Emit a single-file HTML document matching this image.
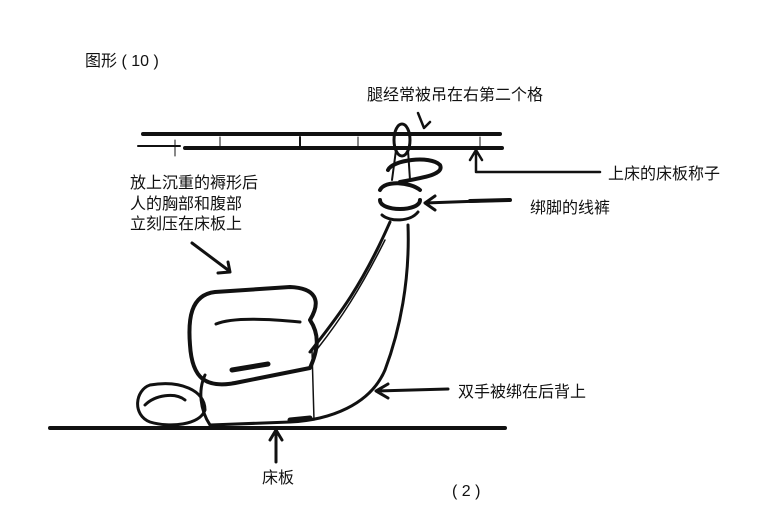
<!DOCTYPE html>
<html><head><meta charset="utf-8"><style>
html,body{margin:0;padding:0;background:#fff;}
svg{display:block;}
text{font-family:"Liberation Sans","Noto Sans CJK SC",sans-serif;font-size:16px;fill:#111;}
</style></head><body>
<svg width="775" height="525" viewBox="0 0 775 525" xmlns="http://www.w3.org/2000/svg">
<g stroke="#111" fill="none" stroke-linecap="round" stroke-linejoin="round">
<line x1="143" y1="134" x2="500" y2="134" stroke-width="4"/>
<line x1="138" y1="146" x2="180" y2="146" stroke-width="2"/>
<line x1="185" y1="148" x2="502" y2="148" stroke-width="4"/>
<line x1="175" y1="140" x2="175" y2="156" stroke-width="1"/>
<line x1="220" y1="137" x2="220" y2="147" stroke-width="1"/>
<line x1="300" y1="137" x2="300" y2="147" stroke-width="2"/>
<line x1="358" y1="137" x2="358" y2="147" stroke-width="1"/>
<line x1="480" y1="137" x2="480" y2="147" stroke-width="1"/>
<line x1="50" y1="428" x2="505" y2="428" stroke-width="4"/>
<path d="M418 113 L424 128 L430 122" stroke-width="2.5"/>
<path d="M600 172 L476 172 L476 152 M470 160 L476 150 L482 160" stroke-width="2.5"/>
<path d="M470 201 L510 200" stroke-width="4"/>
<path d="M510 200 L425 203 M435 196 L425 203 L435 210" stroke-width="3"/>
<path d="M192 243 L228 270 M218 273 L230 272 L228 262" stroke-width="3"/>
<path d="M448 389 L378 391 M388 384 L376 391 L388 398" stroke-width="3"/>
<path d="M276 462 L276 432 M270 440 L276 430 L282 440" stroke-width="3"/>
<path d="M310 320 C322 300 315 288 290 287 L215 292 C190 295 188 320 190 345 C192 378 205 390 240 382 L310 368 C318 350 320 335 310 320 Z" stroke-width="4"/>
<path d="M216 324 C230 318 260 318 300 322" stroke-width="3"/>
<path d="M232 370 L268 364" stroke-width="5"/>
<path d="M205 375 C198 390 200 410 210 425 L290 422 C330 420 370 405 385 370 C400 330 410 280 408 225" stroke-width="3"/>
<path d="M310 352 C335 320 360 290 390 222" stroke-width="3"/>
<path d="M318 348 C340 320 360 290 385 240" stroke-width="1.5"/>
<line x1="312" y1="350" x2="314" y2="420" stroke-width="1.5"/>
<path d="M290 420 L310 418" stroke-width="5"/>
<path d="M150 385 C135 390 132 415 150 422 C170 428 200 425 205 410 C205 390 180 380 150 385 Z" stroke-width="3"/>
<path d="M145 405 C155 395 175 392 185 400" stroke-width="3"/>
<ellipse cx="402" cy="140" rx="8" ry="16" stroke-width="3"/>
<path d="M388 170 C392 160 430 155 440 165 C445 175 420 178 400 182" stroke-width="4"/>
<path d="M380 190 C385 180 410 182 420 190" stroke-width="4"/>
<path d="M380 200 C380 212 420 212 420 200" stroke-width="4"/>
<path d="M382 215 C390 222 410 222 418 212" stroke-width="3"/>
<line x1="396" y1="150" x2="392" y2="180" stroke-width="2"/>
<line x1="408" y1="150" x2="410" y2="180" stroke-width="2"/>
</g>
<text x="85" y="66">图形 ( 10 )</text>
<text x="367" y="100">腿经常被吊在右第二个格</text>
<text x="608" y="179">上床的床板称子</text>
<text x="530" y="213">绑脚的线裤</text>
<text x="130" y="188">放上沉重的褥形后</text>
<text x="130" y="209">人的胸部和腹部</text>
<text x="130" y="229">立刻压在床板上</text>
<text x="458" y="397">双手被绑在后背上</text>
<text x="262" y="483">床板</text>
<text x="452" y="496">( 2 )</text>
</svg>
</body></html>
